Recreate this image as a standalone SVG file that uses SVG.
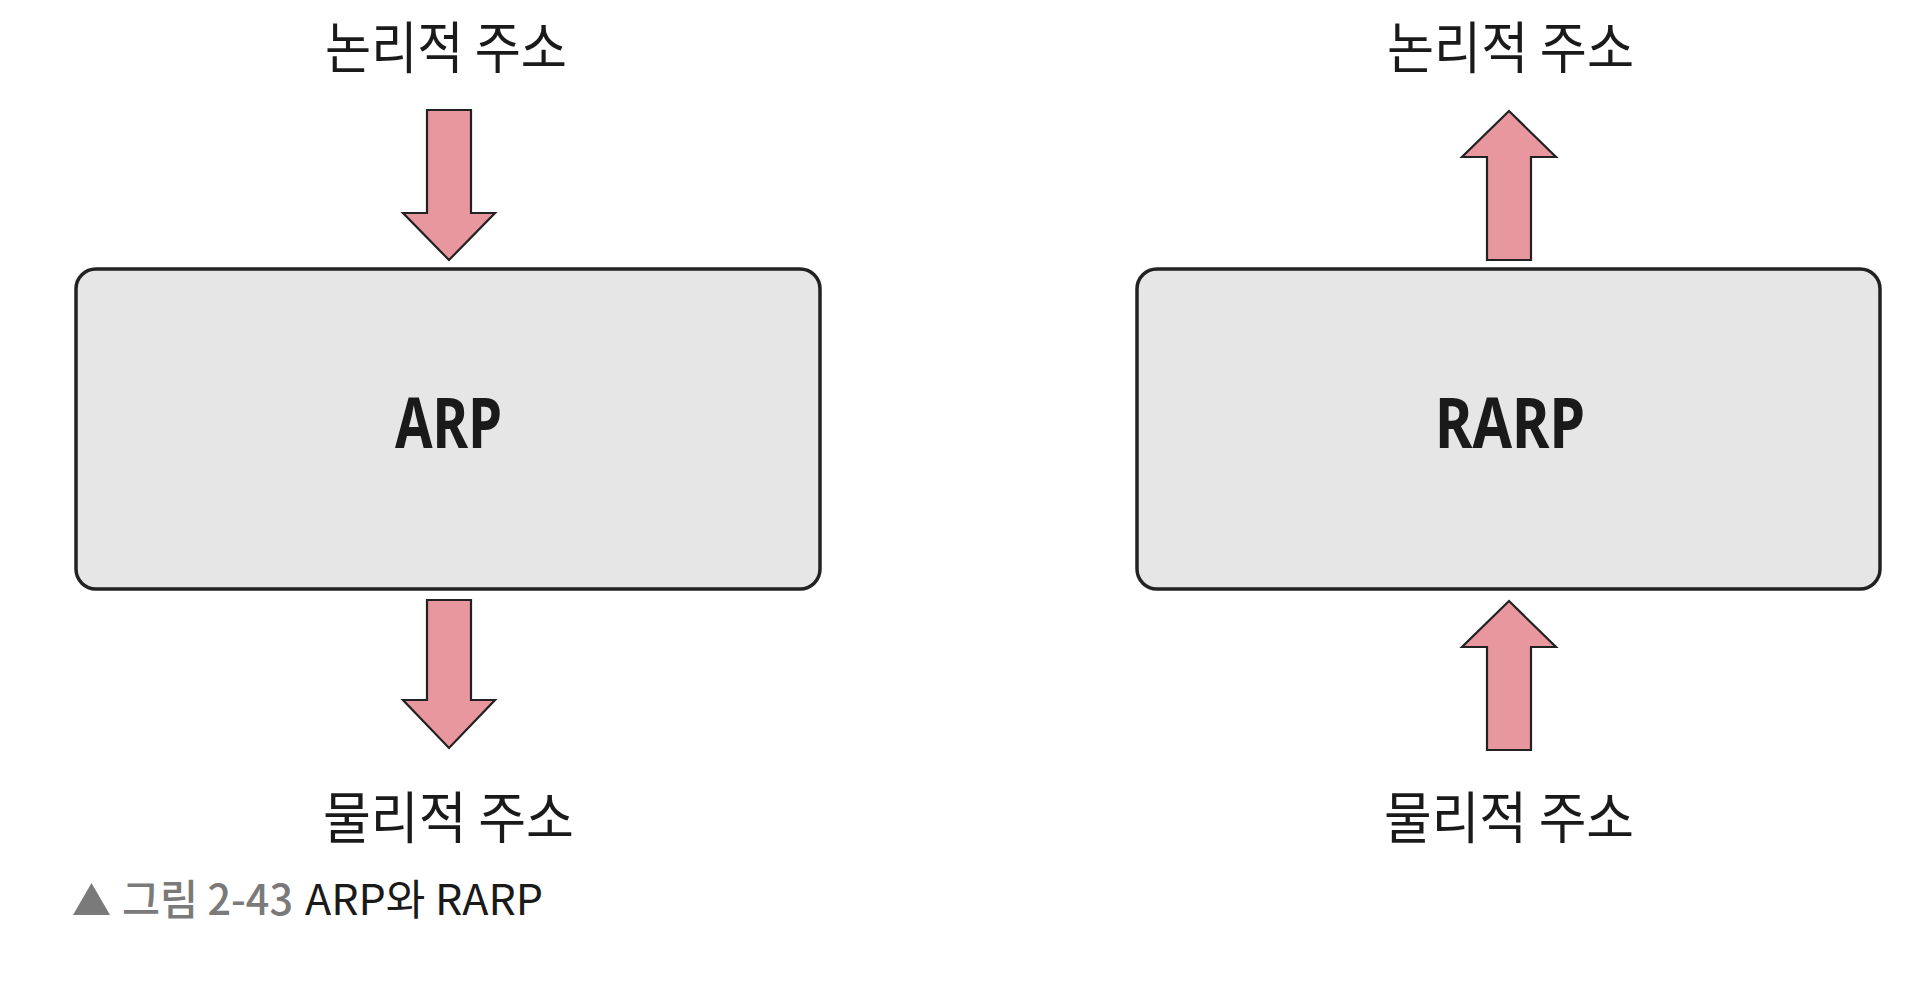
<svg xmlns="http://www.w3.org/2000/svg" width="1905" height="1000" viewBox="0 0 1905 1000">
<style>
.box{fill:#e6e6e6;stroke:#222;stroke-width:3.5}
.arrow{fill:#e9979f;stroke:#222;stroke-width:2.2;stroke-linejoin:miter}
.lbl{font-family:"Noto Sans CJK KR","Noto Sans",sans-serif;font-size:56px;fill:#1a1a1a;text-anchor:start}
.title{font-family:"Noto Sans","Liberation Sans",sans-serif;font-weight:bold;font-size:70px;fill:#1a1a1a}
.cap{font-family:"Noto Sans CJK KR","Liberation Sans",sans-serif;font-size:42px;font-weight:500}
.cap2{font-family:"Noto Sans CJK KR","Liberation Sans",sans-serif;font-size:42px;font-weight:400}
</style>
<rect width="1905" height="1000" fill="#ffffff"/>
<g id="arp">
<rect class="box" x="76" y="269" width="744" height="320" rx="20" ry="20"/>
<text class="title" x="395" y="448" textLength="107" lengthAdjust="spacingAndGlyphs">ARP</text>
</g>
<g id="rarp">
<rect class="box" x="1137" y="269" width="743" height="320" rx="20" ry="20"/>
<text class="title" x="1435" y="448" textLength="150" lengthAdjust="spacingAndGlyphs">RARP</text>
</g>
<g id="label-arp-logical">
<text class="lbl" x="325" y="68" textLength="242" lengthAdjust="spacingAndGlyphs">논리적 주소</text>
</g>
<g id="label-arp-physical">
<text class="lbl" x="323" y="838" textLength="251" lengthAdjust="spacingAndGlyphs">물리적 주소</text>
</g>
<g id="label-rarp-logical">
<text class="lbl" x="1387" y="68" textLength="247" lengthAdjust="spacingAndGlyphs">논리적 주소</text>
</g>
<g id="label-rarp-physical">
<text class="lbl" x="1384" y="838" textLength="250" lengthAdjust="spacingAndGlyphs">물리적 주소</text>
</g>
<g id="connectors">
<polygon class="arrow" points="427,110 471,110 471,213 495,213 449,260 403,213 427,213"/>
<polygon class="arrow" points="427,600 471,600 471,700 495,700 449,748 403,700 427,700"/>
<polygon class="arrow" points="1509,111 1556,157 1531,157 1531,260 1487,260 1487,157 1462,157"/>
<polygon class="arrow" points="1509,601 1556,647 1531,647 1531,750 1487,750 1487,647 1462,647"/>
</g>
<g id="caption">
<polygon points="73,915 110,915 91.5,883" fill="#7a7a7a"/>
<text class="cap" x="122" y="915" textLength="171" lengthAdjust="spacingAndGlyphs" fill="#7a7a7a">그림 2-43</text>
<text class="cap2" x="305" y="915" textLength="238" lengthAdjust="spacingAndGlyphs" fill="#1a1a1a">ARP와 RARP</text>
</g>
</svg>
